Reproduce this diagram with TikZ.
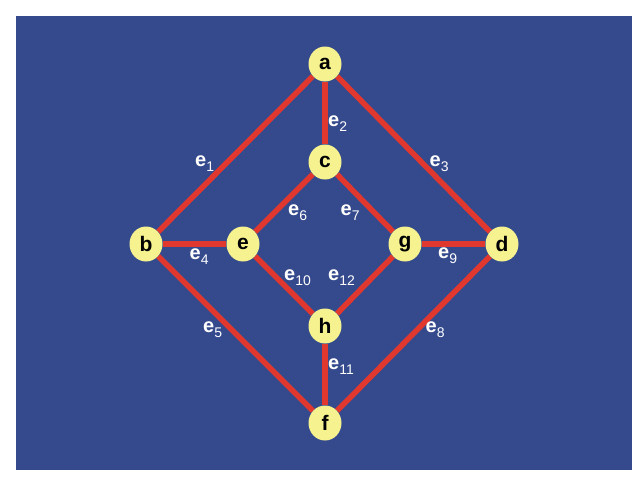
\documentclass[tikz,border=0pt]{standalone}
\usepackage{fontspec}
\setmainfont{Liberation Sans}
\usetikzlibrary{shapes.geometric,backgrounds}
\definecolor{bgblue}{HTML}{354A8D}
\definecolor{edgered}{HTML}{E0382F}
\definecolor{nodeyellow}{HTML}{F6F28F}
\tikzset{
  vtx/.style={ellipse, fill=nodeyellow, draw=none, minimum width=33pt, minimum height=35pt, inner sep=0pt,
    font=\fontsize{21}{21}\selectfont\bfseries, text=black},
  edg/.style={draw=edgered, line width=5.5pt},
  lbl/.style={anchor=base west, inner sep=0pt, text=white, font=\fontsize{20}{20}\selectfont}
}
\newcommand{\elab}[1]{\textbf{e}\raisebox{-5pt}{\fontsize{14}{14}\selectfont #1}}
\begin{document}
\begin{tikzpicture}[x=1pt,y=-1pt]
\useasboundingbox (0,0) rectangle (640,480);
\node[vtx] (a) at (325,64) {a};
\node[vtx] (c) at (325,162) {c};
\node[vtx] (b) at (146,244) {b};
\node[vtx] (e) at (243,244) {e};
\node[vtx] (g) at (405,244) {g};
\node[vtx] (d) at (502,244) {d};
\node[vtx] (h) at (325,326) {h};
\node[vtx] (f) at (325,423) {f};
\begin{pgfonlayer}{background}
\fill[bgblue] (16,16) rectangle (632,470);
\draw[edg] (a) -- (b);
\draw[edg] (a) -- (c);
\draw[edg] (a) -- (d);
\draw[edg] (b) -- (e);
\draw[edg] (b) -- (f);
\draw[edg] (c) -- (e);
\draw[edg] (c) -- (g);
\draw[edg] (d) -- (f);
\draw[edg] (g) -- (d);
\draw[edg] (e) -- (h);
\draw[edg] (h) -- (f);
\draw[edg] (g) -- (h);
\end{pgfonlayer}
\node[lbl] (l1) at (195,166.5) {\elab{1}};
\node[lbl] (l2) at (328,126.5) {\elab{2}};
\node[lbl] (l3) at (429.5,166.5) {\elab{3}};
\node[lbl] (l4) at (189.5,259) {\elab{4}};
\node[lbl] (l5) at (203,332.5) {\elab{5}};
\node[lbl] (l6) at (288,215.5) {\elab{6}};
\node[lbl] (l7) at (340.5,215.5) {\elab{7}};
\node[lbl] (l8) at (425.5,332.5) {\elab{8}};
\node[lbl] (l9) at (438,258.5) {\elab{9}};
\node[lbl] (l10) at (284,280) {\elab{10}};
\node[lbl] (l11) at (328,369) {\elab{11}};
\node[lbl] (l12) at (328,280) {\elab{12}};
\end{tikzpicture}
\end{document}
